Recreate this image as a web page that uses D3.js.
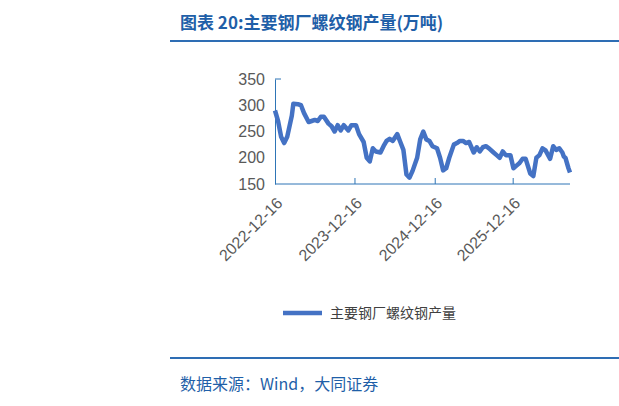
<!DOCTYPE html><html><head><meta charset="utf-8"><script src="https://cdn.jsdelivr.net/npm/d3@7"></script>
<style>body{margin:0;background:#fff}</style></head><body><svg id="c" width="619" height="406"></svg><script>
const tickLabels=["2022-12-16","2023-12-16","2024-12-16","2025-12-16"];
const weeks=[0,2,4,6,8,11,12,15,17,19,22,24,26,28,30,32,35,37,39,41,43,45,48,50,53,55,58,60,62,64,66,69,71,73,75,77,80,82,84,86,88,90,93,95,97,99,101,103,106,108,110,112,114,117,119,121,123,125,127,130,132,134,136,138,140,143,145,147,149,151,154,156,158,160,162,164,167,169,171,173,175,177,180,182,184,186,188,189,190,192,193];
const values=[290,270,240,228,240,280,303,302,300,285,268,270,272,270,278,278,265,260,250,262,252,262,252,262,262,245,230,200,193,218,212,210,222,232,236,232,245,230,215,168,162,175,200,235,250,235,232,222,218,200,176,180,200,225,228,232,232,228,230,210,220,212,220,222,218,210,205,200,212,205,205,180,185,190,198,198,170,165,200,205,218,214,198,222,215,218,210,202,200,180,172];
const yTicks=[150,200,250,300,350];
const svg=d3.select("#c");
const blue="#1f5fa8";
svg.append("text").attr("x",180).attr("y",29).attr("fill",blue).attr("font-size",17).attr("font-weight","bold").attr("font-family","Noto Sans CJK SC").text("图表 20:主要钢厂螺纹钢产量(万吨)");
svg.append("line").attr("x1",170).attr("x2",619).attr("y1",41).attr("y2",41).attr("stroke","#2e6db4").attr("stroke-width",2);
svg.append("line").attr("x1",170).attr("x2",619).attr("y1",358).attr("y2",358).attr("stroke","#2e6db4").attr("stroke-width",2);
svg.append("text").attr("x",180).attr("y",390).attr("fill",blue).attr("font-size",16).attr("font-family","Noto Sans CJK SC").text("数据来源：Wind，大同证券");
const x=d3.scaleLinear().domain([0,193]).range([275,570]);
const y=d3.scaleLinear().domain([150,350]).range([184,79]);
const ax="#2e75b6";
const ya=svg.append("g").attr("transform","translate(275,0)").call(d3.axisLeft(y).tickValues(yTicks).tickSize(0).tickPadding(10));
ya.select(".domain").attr("stroke",ax);
ya.selectAll("text").attr("fill","#595959").attr("font-size",16).attr("font-family","Liberation Sans");
svg.append("line").attr("x1",275).attr("x2",281).attr("y1",79).attr("y2",79).attr("stroke",ax);
const tickW=[0,52,104.5,155.5];
const xa=svg.append("g").attr("transform","translate(0,184)").call(d3.axisBottom(x).tickValues(tickW).tickSize(-6).tickFormat((d,i)=>tickLabels[i]));
xa.select(".domain").attr("stroke",ax).attr("d","M275,0H570");
xa.selectAll("line").attr("stroke",ax);
xa.selectAll("text").attr("fill","#595959").attr("font-size",16).attr("font-family","Liberation Sans").attr("text-anchor","end").attr("transform","translate(2,14) rotate(-45)").attr("dy","0.35em");
svg.append("path").datum(weeks.map((w,i)=>[w,values[i]])).attr("fill","none").attr("stroke","#4472c4").attr("stroke-width",4.5).attr("stroke-linejoin","round").attr("d",d3.line().x(d=>x(d[0])).y(d=>y(d[1])));
svg.append("line").attr("x1",283).attr("x2",322).attr("y1",313).attr("y2",313).attr("stroke","#4472c4").attr("stroke-width",4.5);
svg.append("text").attr("x",330).attr("y",318).attr("fill","#404040").attr("font-size",14).attr("font-family","Noto Sans CJK SC").text("主要钢厂螺纹钢产量");
</script></body></html>
